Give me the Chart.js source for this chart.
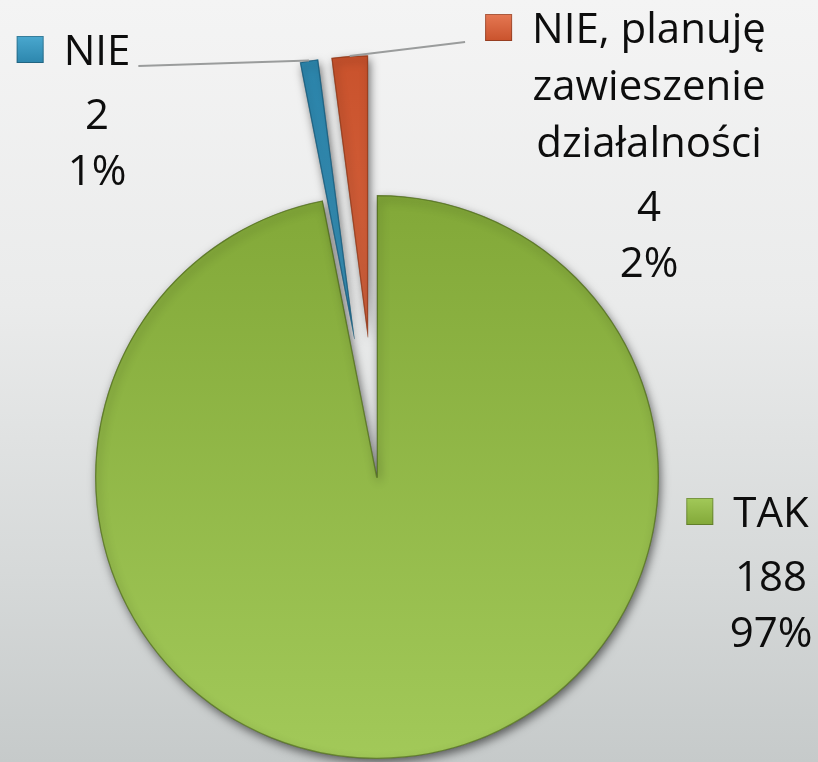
<!DOCTYPE html>
<html>
<head>
<meta charset="utf-8">
<script src="https://cdn.jsdelivr.net/npm/chart.js@4.4.1/dist/chart.umd.min.js"></script>
<style>
  html, body { margin: 0; padding: 0; }
  #wrap {
    width: 818px; height: 762px; position: relative;
    background: linear-gradient(180deg, #f4f4f4 0%, #eaebeb 40%, #d6d9d9 75%, #c6caca 100%);
  }
</style>
</head>
<body>
<div id="wrap"><canvas id="pie"></canvas></div>
<script>
// data
const categories = ['TAK', 'NIE', 'NIE, planuję zawieszenie działalności'];
const counts = [188, 2, 4];

// two shades per slice: top of the pie, bottom of the pie
const shades = [
    ['#82a838', '#a2c959'],
    ['#2c86ad', '#4aa8cf'],
    ['#c9522c', '#e57853']
];
const edges = ['rgba(70,95,25,0.6)', 'rgba(20,80,110,0.6)', 'rgba(130,50,20,0.6)'];

function sliceFill(c) {
    const chart = c.chart;
    const pair = shades[c.dataIndex];
    const area = chart.chartArea;
    if (!area) return pair[1];
    const g = chart.ctx.createLinearGradient(0, area.top, 0, area.bottom);
    g.addColorStop(0, pair[0]);
    g.addColorStop(1, pair[1]);
    return g;
}

function wrapText(ctx, text, maxWidth) {
    const words = text.split(' ');
    const lines = [];
    let cur = '';
    words.forEach(w => {
        const test = cur ? cur + ' ' + w : w;
        if (cur && ctx.measureText(test).width > maxWidth) {
            lines.push(cur);
            cur = w;
        } else {
            cur = test;
        }
    });
    if (cur) lines.push(cur);
    return lines;
}

// pulls slices outward along their mid angle, keeping their radius, and adds a drop shadow
const explodePlugin = {
    id: 'explode',
    beforeDatasetDraw(chart, args, opts) {
        const ctx = chart.ctx;
        const pull = chart.data.datasets[args.index].explode || [];
        args.meta.data.forEach((arc, i) => {
            const mid = (arc.startAngle + arc.endAngle) / 2;
            const d = pull[i] || 0;
            ctx.save();
            ctx.translate(Math.cos(mid) * d, Math.sin(mid) * d);
            ctx.shadowColor = opts.shadowColor;
            ctx.shadowBlur = opts.shadowBlur;
            ctx.shadowOffsetX = 2;
            ctx.shadowOffsetY = 4;
            arc.draw(ctx);
            ctx.restore();
        });
        return false;
    }
};

// legend key + category + count + percent next to each slice
const labelPlugin = {
    id: 'sliceLabels',
    afterDatasetsDraw(chart, args, opts) {
        const ctx = chart.ctx;
        const meta = chart.getDatasetMeta(0);
        const pull = chart.data.datasets[0].explode || [];
        const total = counts.reduce((a, b) => a + b, 0);
        ctx.save();
        ctx.font = opts.font;
        ctx.fillStyle = '#0d0d0d';
        ctx.textAlign = 'center';
        ctx.textBaseline = 'alphabetic';

        opts.anchors.forEach((a, i) => {
            const lines = wrapText(ctx, categories[i], opts.maxWidth);
            const w0 = ctx.measureText(lines[0]).width;
            const mSize = opts.markerSize;
            const mx = a.x - w0 / 2 - opts.markerGap - mSize;
            const my = a.y - 2 - mSize;

            // leader line
            if (a.leader) {
                const arc = meta.data[i];
                const mid = (arc.startAngle + arc.endAngle) / 2;
                const r = arc.outerRadius + (pull[i] || 0);
                const px = arc.x + Math.cos(mid) * r;
                const py = arc.y + Math.sin(mid) * r;
                let lx, ly;
                if (a.x < px) { lx = a.x + w0 / 2 + 8; ly = a.y + 1; }
                else { lx = mx - 20; ly = a.y - 1; }
                ctx.save();
                ctx.strokeStyle = '#9a9c9c';
                ctx.lineWidth = 2;
                ctx.beginPath();
                ctx.moveTo(lx, ly);
                ctx.lineTo(px, py);
                ctx.stroke();
                ctx.restore();
            }

            // key square
            ctx.save();
            const g = ctx.createLinearGradient(0, my, 0, my + mSize);
            g.addColorStop(0, shades[i][1]);
            g.addColorStop(1, shades[i][0]);
            ctx.fillStyle = g;
            ctx.fillRect(mx, my, mSize, mSize);
            ctx.strokeStyle = 'rgba(0,0,0,0.25)';
            ctx.lineWidth = 1;
            ctx.strokeRect(mx + 0.5, my + 0.5, mSize - 1, mSize - 1);
            ctx.restore();

            let y = a.y;
            lines.forEach((ln, k) => {
                ctx.fillText(ln, a.x, y);
                if (k < lines.length - 1) y += opts.lineHeight;
            });
            y += opts.valueGap;
            ctx.fillText(String(counts[i]), a.x, y);
            y += opts.pctGap;
            ctx.fillText(Math.round(counts[i] / total * 100) + '%', a.x, y);
        });
        ctx.restore();
    }
};

new Chart(document.getElementById('pie'), {
    type: 'pie',
    data: {
        labels: categories,
        datasets: [{
            data: counts,
            backgroundColor: sliceFill,
            borderColor: edges,
            borderWidth: 1,
            borderAlign: 'inner',
            explode: [0, 140, 140]
        }]
    },
    options: {
        responsive: true,
        maintainAspectRatio: false,
        animation: false,
        radius: 282,
        layout: { padding: { top: 192, bottom: 0, left: 0, right: 64 } },
        plugins: {
            legend: { display: false },
            tooltip: { enabled: false },
            explode: { shadowColor: 'rgba(0,0,0,0.55)', shadowBlur: 10 },
            sliceLabels: {
                font: '42px "Open Sans"',
                maxWidth: 265,
                lineHeight: 57,
                valueGap: 64,
                pctGap: 56,
                markerSize: 27,
                markerGap: 20,
                anchors: [
                    { x: 771, y: 527, leader: false },
                    { x: 97, y: 65, leader: true },
                    { x: 649, y: 43, leader: true }
                ]
            }
        }
    },
    plugins: [explodePlugin, labelPlugin]
});
</script>
</body>
</html>
